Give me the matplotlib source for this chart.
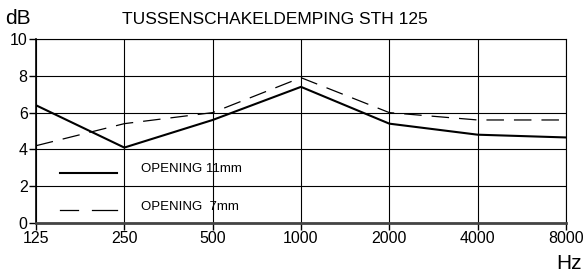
import matplotlib

matplotlib.use("Agg")
import matplotlib.pyplot as plt
import numpy as np

plt.rcParams["font.family"] = ["Liberation Sans", "DejaVu Sans"]

freqs = ["125", "250", "500", "1000", "2000", "4000", "8000"]
opening_11mm = [6.4, 4.1, 5.6, 7.4, 5.4, 4.8, 4.65]
opening_7mm = [4.2, 5.4, 6.0, 7.9, 6.0, 5.6, 5.6]
y_ticks = [0, 2, 4, 6, 8, 10]

fig = plt.figure(figsize=(5.85, 2.8), dpi=100)
ax = fig.add_axes([0.0615, 0.2036, 0.906, 0.657])

x = np.arange(len(freqs))
ax.plot(x, opening_11mm, color="black", linewidth=1.5)
ax.plot(x, opening_7mm, color="black", linewidth=0.9, dashes=(14, 8))

ax.set_xlim(0, len(freqs) - 1)
ax.set_ylim(0, 10)
ax.set_xticks(x)
ax.set_xticklabels(freqs)
ax.set_yticks(y_ticks)
ax.grid(True, color="black", linewidth=0.8)
ax.tick_params(direction="out", length=5, width=1, labelsize=11.5, pad=1)

for side in ["top", "right"]:
    ax.spines[side].set_linewidth(0.8)
ax.spines["left"].set_linewidth(1.2)
ax.spines["bottom"].set_linewidth(2)
ax.spines["bottom"].set_color("#444444")

# hand-drawn legend, no frame
ax.plot([0.27, 0.92], [2.72, 2.72], color="black", linewidth=1.5)
ax.plot([0.27, 0.475], [0.7, 0.7], color="black", linewidth=0.9)
ax.plot([0.635, 0.92], [0.7, 0.7], color="black", linewidth=0.9)
ax.text(1.19, 2.93, "OPENING 11mm", fontsize=9.5, va="center")
ax.text(1.19, 0.88, "OPENING  7mm", fontsize=9.5, va="center")

fig.text(0.47, 0.93, "TUSSENSCHAKELDEMPING STH 125", fontsize=12.5, ha="center", va="center")
fig.text(0.008, 0.935, "dB", fontsize=15, ha="left", va="center")
fig.text(0.994, 0.058, "Hz", fontsize=15, ha="right", va="center")

fig.savefig("out.png", dpi=100)
